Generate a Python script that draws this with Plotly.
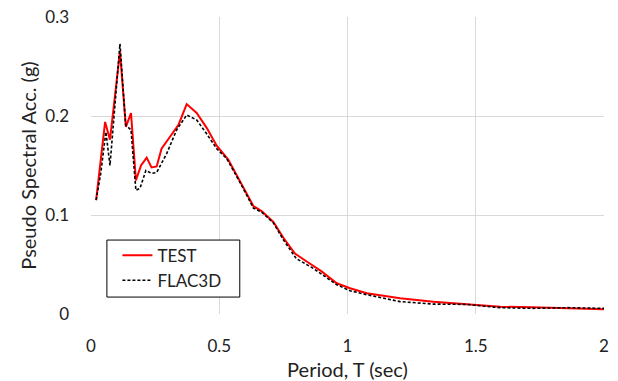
import plotly.graph_objects as go

test_x = [0.02, 0.055, 0.074, 0.113, 0.136, 0.156, 0.175, 0.195, 0.217, 0.236, 0.256, 0.275, 0.308,
          0.341, 0.373, 0.412, 0.451, 0.49, 0.535, 0.59, 0.633, 0.665, 0.711, 0.75, 0.795, 0.841,
          0.899, 0.958, 1.01, 1.075, 1.205, 1.335, 1.465, 1.595, 1.72, 1.855, 2.0]
test_y = [0.115, 0.194, 0.176, 0.265, 0.189, 0.203, 0.135, 0.150, 0.158, 0.148, 0.149, 0.167, 0.179,
          0.191, 0.212, 0.203, 0.188, 0.170, 0.156, 0.130, 0.109, 0.104, 0.093, 0.077, 0.061, 0.053,
          0.043, 0.031, 0.026, 0.021, 0.016, 0.0125, 0.0097, 0.0074, 0.0067, 0.0057, 0.0047]

flac_x = [0.02, 0.038, 0.058, 0.074, 0.113, 0.135, 0.156, 0.175, 0.191, 0.214, 0.236, 0.256, 0.295,
          0.334, 0.373, 0.412, 0.451, 0.49, 0.529, 0.587, 0.633, 0.665, 0.711, 0.75, 0.80, 0.867,
          0.958, 1.01, 1.075, 1.205, 1.335, 1.465, 1.595, 1.72, 1.855, 2.0]
flac_y = [0.115, 0.142, 0.184, 0.150, 0.273, 0.191, 0.186, 0.125, 0.127, 0.145, 0.142, 0.143, 0.162,
          0.186, 0.201, 0.196, 0.182, 0.167, 0.157, 0.130, 0.107, 0.103, 0.092, 0.075, 0.056, 0.046,
          0.0296, 0.0235, 0.0195, 0.0125, 0.010, 0.0097, 0.0064, 0.0057, 0.0064, 0.0057]

x_ticks = [0, 0.5, 1, 1.5, 2]
x_labels = ["0", "0.5", "1", "1.5", "2"]
y_ticks = [0, 0.1, 0.2, 0.3]
y_labels = ["0", "0.1", "0.2", "0.3"]

font = "Lato, 'Open Sans', sans-serif"
fig = go.Figure()
fig.add_trace(go.Scatter(x=test_x, y=test_y, mode="lines", name="TEST",
                         line=dict(color="#ff0000", width=2)))
fig.add_trace(go.Scatter(x=flac_x, y=flac_y, mode="lines", name="FLAC3D",
                         line=dict(color="#000000", width=1.6, dash="3px,2px")))

# legend frame (Excel-style box, wider than plotly's auto legend)
fig.add_shape(type="rect", xref="paper", yref="paper", x0=0.031, x1=0.29, y0=0.057, y1=0.249,
              line=dict(color="#000", width=1), fillcolor="white", layer="above")

fig.update_layout(
    width=618, height=381,
    margin=dict(l=91, r=14, t=17, b=67),
    paper_bgcolor="white", plot_bgcolor="white",
    font=dict(family=font, size=17, color="#222"),
    showlegend=True,
    legend=dict(x=0.0515, y=0.257, xanchor="left", yanchor="top",
                borderwidth=0, bgcolor="rgba(0,0,0,0)",
                font=dict(size=17, family=font, color="#222"),
                itemwidth=30, tracegroupgap=2),
    xaxis=dict(range=[0, 2], tickvals=x_ticks, ticktext=x_labels, showgrid=True,
               gridcolor="#d9d9d9", gridwidth=1, zeroline=False, showline=False,
               ticks="", ticklabelstandoff=20, tickfont=dict(size=17), automargin=False,
               title=dict(text="Period, T (sec)", font=dict(size=20), standoff=8)),
    yaxis=dict(range=[0, 0.3], tickvals=y_ticks, ticktext=y_labels, showgrid=True,
               gridcolor="#d9d9d9", gridwidth=1, zeroline=False, showline=False,
               ticks="", ticklabelstandoff=21, tickfont=dict(size=17), automargin=False,
               title=dict(text="Pseudo Spectral Acc. (g)", font=dict(size=20), standoff=3)),
)
fig.write_html("out.html")
